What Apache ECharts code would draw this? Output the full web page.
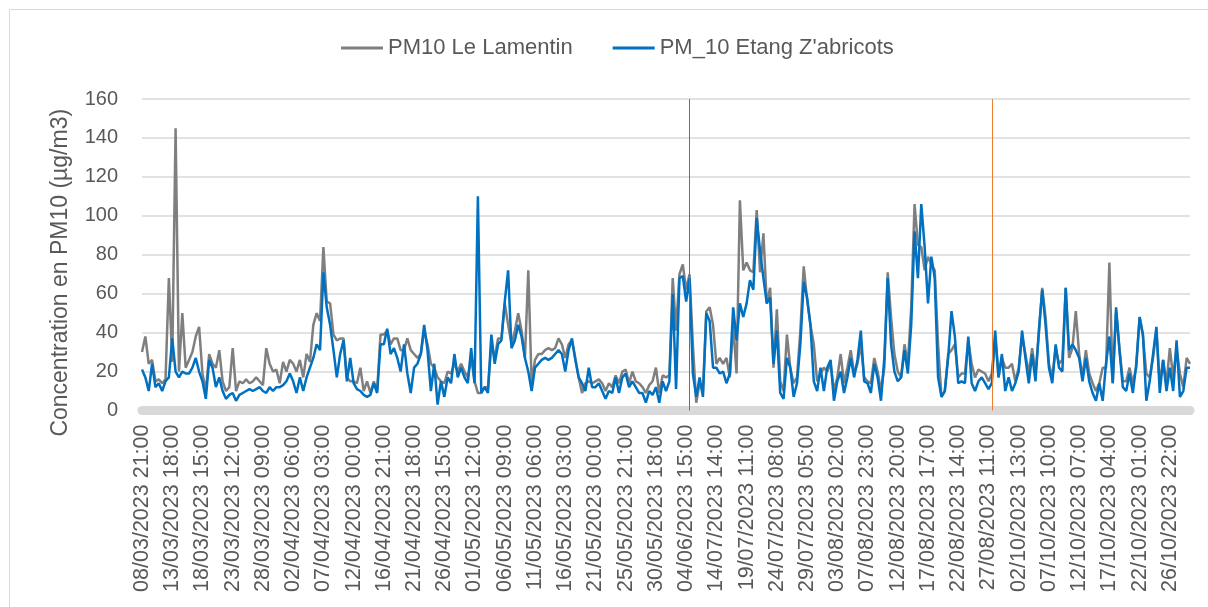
<!DOCTYPE html>
<html>
<head>
<meta charset="utf-8">
<script src="https://cdn.jsdelivr.net/npm/echarts@6/dist/echarts.min.js"></script>
<style>
  html, body { margin: 0; padding: 0; background: #fff; }
  #chart { width: 1208px; height: 607px; }
</style>
</head>
<body>
<div id="chart"></div>
<script>
// libellés de l'axe des x (un tous les 117 h), 9 points par intervalle
var tickLabels = [
    '08/03/2023 21:00', '13/03/2023 18:00', '18/03/2023 15:00', '23/03/2023 12:00', '28/03/2023 09:00',
    '02/04/2023 06:00', '07/04/2023 03:00', '12/04/2023 00:00', '16/04/2023 21:00', '21/04/2023 18:00',
    '26/04/2023 15:00', '01/05/2023 12:00', '06/05/2023 09:00', '11/05/2023 06:00', '16/05/2023 03:00',
    '21/05/2023 00:00', '25/05/2023 21:00', '30/05/2023 18:00', '04/06/2023 15:00', '14/07/2023 14:00',
    '19/07/2023 11:00', '24/07/2023 08:00', '29/07/2023 05:00', '03/08/2023 02:00', '07/08/2023 23:00',
    '12/08/2023 20:00', '17/08/2023 17:00', '22/08/2023 14:00', '27/08/2023 11:00', '02/10/2023 13:00',
    '07/10/2023 10:00', '12/10/2023 07:00', '17/10/2023 04:00', '22/10/2023 01:00', '26/10/2023 22:00'
];
var pointsPerTick = 9;

// PM10 Le Lamentin (µg/m3)
var lamentin = [
    30, 38, 24, 26, 15, 16, 14, 16, 68, 25, 145, 20, 50, 22, 26, 30, 38, 43, 19, 10, 29, 24, 22, 31, 15, 10, 12, 32, 10, 15, 14, 16, 14, 15, 17, 15, 13, 32, 24, 20, 21, 14, 25, 20, 26,
    24, 20, 26, 17, 29, 25, 44, 50, 46, 84, 56, 55, 39, 36, 37, 37, 17, 15, 15, 14, 22, 10, 15, 9, 15, 10, 39, 39, 41, 34, 37, 37, 31, 31, 37, 31, 29, 27, 29, 41, 34, 24, 22, 17, 15,
    14, 20, 19, 24, 20, 24, 20, 17, 27, 15, 9, 9, 12, 12, 34, 27, 37, 37, 55, 44, 34, 41, 50, 41, 27, 72, 14, 26, 29, 29, 31, 32, 31, 32, 37, 34, 27, 34, 36, 27, 17, 9, 14, 15, 14,
    15, 16, 14, 10, 14, 12, 18, 14, 20, 21, 14, 20, 15, 14, 12, 9, 13, 15, 22, 9, 18, 17, 18, 68, 41, 70, 75, 62, 70, 34, 4, 14, 10, 51, 53, 44, 24, 27, 24, 27, 17, 44, 19, 108, 72,
    76, 72, 71, 103, 71, 91, 55, 63, 22, 52, 15, 10, 39, 22, 14, 17, 41, 74, 57, 44, 34, 15, 19, 22, 20, 24, 10, 17, 29, 14, 22, 31, 19, 24, 34, 17, 15, 14, 27, 20, 10, 22, 71, 48, 29,
    20, 17, 34, 24, 53, 106, 85, 84, 72, 79, 75, 72, 34, 7, 10, 29, 31, 34, 17, 19, 19, 36, 24, 17, 21, 20, 19, 15, 19, 38, 17, 27, 22, 22, 24, 15, 22, 38, 29, 19, 32, 19, 39, 63, 48,
    24, 17, 32, 24, 26, 63, 27, 32, 51, 29, 17, 31, 19, 14, 10, 14, 22, 22, 76, 14, 51, 32, 15, 15, 22, 14, 22, 48, 38, 19, 17, 27, 41, 14, 26, 14, 32, 17, 32, 19, 12, 27, 24
];

// PM_10 Etang Z'abricots (µg/m3)
var etang = [
    21, 17, 10, 24, 12, 14, 10, 15, 17, 37, 20, 17, 20, 19, 19, 22, 27, 20, 15, 6, 26, 22, 12, 17, 10, 6, 8, 9, 5, 8, 9, 10, 11, 10, 11, 12, 10, 9, 12, 10, 12, 12, 13, 15, 19,
    15, 9, 17, 10, 17, 22, 27, 34, 31, 71, 53, 44, 31, 17, 29, 36, 15, 27, 14, 11, 10, 8, 7, 8, 14, 9, 34, 34, 42, 29, 32, 27, 20, 34, 19, 9, 22, 24, 29, 44, 31, 10, 24, 3, 15,
    7, 17, 14, 29, 17, 22, 17, 14, 32, 14, 110, 9, 12, 9, 39, 24, 34, 36, 56, 72, 32, 36, 44, 38, 27, 20, 10, 22, 24, 26, 27, 26, 27, 29, 31, 29, 20, 31, 37, 26, 17, 14, 10, 22, 12,
    12, 14, 10, 6, 10, 9, 17, 9, 17, 19, 12, 15, 12, 9, 9, 4, 10, 8, 12, 4, 15, 10, 15, 60, 11, 68, 69, 56, 68, 19, 7, 17, 7, 50, 46, 22, 22, 19, 20, 14, 19, 53, 36, 55, 48,
    55, 67, 62, 99, 82, 68, 55, 58, 24, 41, 9, 6, 27, 22, 7, 14, 34, 66, 58, 44, 15, 10, 22, 10, 22, 26, 5, 15, 20, 9, 17, 27, 17, 26, 41, 15, 14, 9, 24, 17, 5, 27, 68, 34, 20,
    15, 17, 31, 19, 44, 92, 68, 106, 84, 55, 79, 68, 17, 7, 10, 27, 51, 38, 14, 15, 14, 38, 14, 10, 15, 17, 14, 11, 14, 41, 17, 29, 10, 17, 10, 14, 20, 41, 27, 14, 29, 15, 41, 62, 44,
    22, 14, 34, 22, 20, 63, 31, 34, 31, 27, 15, 27, 15, 9, 5, 14, 5, 24, 38, 14, 53, 31, 12, 10, 19, 9, 24, 48, 39, 5, 15, 29, 43, 9, 26, 10, 22, 10, 36, 7, 10, 22, 22
];

// lignes verticales aux interruptions de mesure (indice de point)
var breakIndex = [163, 253];
var breakColors = ['#b8582a', '#ed7d31'];

var categories = [];
for (var i = 0; i < lamentin.length; i++) {
    var t = Math.floor(i / pointsPerTick);
    var k = i % pointsPerTick;
    categories.push(k === 0 ? tickLabels[t] : tickLabels[t] + ' +' + (k * 13) + 'h');
}

var myChart = echarts.init(document.getElementById('chart'));

var option = {
    animation: false,
    textStyle: { fontFamily: "'Liberation Sans', Arial, sans-serif" },
    graphic: [{
        type: 'rect',
        shape: { x: 9.5, y: 9.5, width: 1230, height: 640 },
        style: { fill: 'none', stroke: '#d9d9d9', lineWidth: 1 },
        silent: true
    }],
    legend: {
        top: 32,
        left: 336,
        itemGap: 40,
        itemWidth: 42,
        itemHeight: 3,
        itemTextGap: 4,
        icon: 'rect',
        textStyle: { fontSize: 22, color: '#595959', fontFamily: "'Liberation Sans Narrow', 'Liberation Sans', sans-serif" },
        data: ['PM10 Le Lamentin', "PM_10 Etang Z'abricots"]
    },
    grid: { left: 142, right: 18, top: 99, bottom: 196.5 },
    xAxis: {
        type: 'category',
        boundaryGap: false,
        offset: 4,
        data: categories,
        axisTick: { show: false },
        axisLine: { lineStyle: { color: '#d9d9d9', width: 9 } },
        axisLabel: {
            interval: function (index) { return index % pointsPerTick === 0; },
            rotate: 90,
            fontSize: 21.5,
            color: '#595959',
            margin: 10
        },
        splitLine: { show: false }
    },
    yAxis: {
        type: 'value',
        min: 0,
        max: 160,
        interval: 20,
        name: 'Concentration en PM10 (µg/m3)',
        nameLocation: 'middle',
        nameGap: 70,
        nameTextStyle: { fontSize: 23, color: '#595959', padding: [0, 36, 0, 0] },
        axisLine: { show: false },
        axisTick: { show: false },
        axisLabel: { fontSize: 20, color: '#595959', margin: 24 },
        splitLine: { lineStyle: { color: '#d9d9d9', width: 1.5 } }
    },
    series: [
        {
            name: 'PM10 Le Lamentin',
            type: 'line',
            data: lamentin,
            symbol: 'none',
            lineStyle: { color: '#7f7f7f', width: 2.5 },
            itemStyle: { color: '#7f7f7f' }
        },
        {
            name: "PM_10 Etang Z'abricots",
            type: 'line',
            data: etang,
            symbol: 'none',
            lineStyle: { color: '#0070c0', width: 2.5 },
            itemStyle: { color: '#0070c0' },
            markLine: {
                silent: true,
                symbol: 'none',
                label: { show: false },
                data: breakIndex.map(function (idx, n) {
                    return [
                        { coord: [idx, 0], lineStyle: { color: breakColors[n], width: 1, type: 'solid' } },
                        { coord: [idx, 160] }
                    ];
                })
            }
        }
    ]
};

myChart.setOption(option);
window.addEventListener('resize', function () {
    myChart.resize();
});
</script>
</body>
</html>
